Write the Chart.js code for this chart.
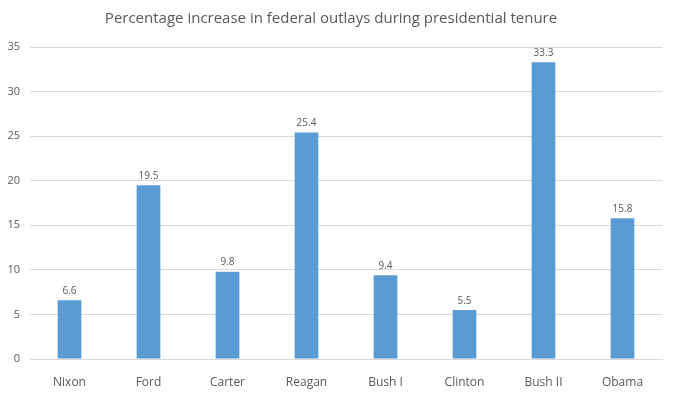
<!DOCTYPE html>
<html>
<head>
<meta charset="utf-8">
<script src="https://cdn.jsdelivr.net/npm/chart.js@4"></script>
<style>
  html, body { margin: 0; padding: 0; background: #fff; }
  #wrap { width: 676px; height: 396px; }
</style>
</head>
<body>
<div id="wrap"><canvas id="chart"></canvas></div>
<script>
// data
var presidents = ['Nixon', 'Ford', 'Carter', 'Reagan', 'Bush I', 'Clinton', 'Bush II', 'Obama'];
var outlayIncrease = [6.6, 19.5, 9.8, 25.4, 9.4, 5.5, 33.3, 15.8];
var yTicks = [0, 5, 10, 15, 20, 25, 30, 35];

var grey = '#595959';
var font = '"Open Sans", Lato, sans-serif';

// labels above each bar, placed from the bar elements
var barLabels = {
  id: 'barLabels',
  afterDatasetsDraw: function(chart) {
    var ctx = chart.ctx;
    var meta = chart.getDatasetMeta(0);
    ctx.save();
    ctx.fillStyle = grey;
    ctx.font = '10px ' + font;
    ctx.textAlign = 'center';
    ctx.textBaseline = 'bottom';
    meta.data.forEach(function(bar, i) {
      ctx.fillText(outlayIncrease[i].toFixed(1), bar.x, bar.y - 4);
    });
    ctx.restore();
  }
};

new Chart(document.getElementById('chart').getContext('2d'), {
  type: 'bar',
  data: {
    labels: presidents,
    datasets: [{
      data: outlayIncrease,
      backgroundColor: '#5B9BD5',
      borderWidth: 0,
      categoryPercentage: 1,
      barPercentage: 0.3
    }]
  },
  options: {
    responsive: true,
    maintainAspectRatio: false,
    animation: false,
    layout: { padding: { left: 0, right: 14, top: 4, bottom: 0 } },
    plugins: {
      legend: { display: false },
      tooltip: { enabled: false },
      title: {
        display: true,
        text: 'Percentage increase in federal outlays during presidential tenure',
        color: grey,
        font: { family: font, size: 15, weight: 'normal' },
        padding: { top: 6, bottom: 19 }
      }
    },
    scales: {
      x: {
        grid: { display: false },
        border: { color: '#d9d9d9' },
        ticks: { color: grey, font: { family: font, size: 12 }, padding: 8 },
        afterFit: function(s) { s.height = 37; }
      },
      y: {
        min: 0,
        max: 35,
        afterBuildTicks: function(s) { s.ticks = yTicks.map(function(v) { return { value: v }; }); },
        grid: { color: '#d9d9d9', drawTicks: false },
        border: { display: false },
        ticks: { color: grey, font: { family: font, size: 11 }, padding: 10 },
        afterFit: function(s) { s.width = 30; }
      }
    }
  },
  plugins: [barLabels]
});
</script>
</body>
</html>
